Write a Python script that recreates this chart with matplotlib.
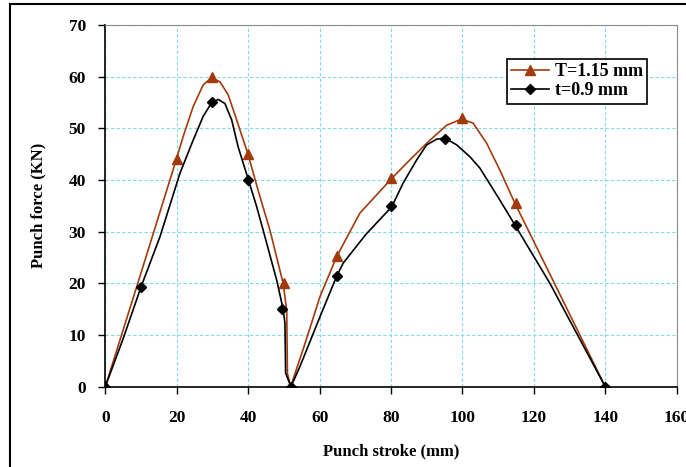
import numpy as np
import matplotlib.pyplot as plt
from matplotlib.patches import Rectangle

# Data
# T = 1.15 mm : curve points and marked points
t115_x = [0, 8.8, 19.8, 21.8, 24.6, 27.4, 29.8, 32.1, 34.4, 36.8, 40, 43, 46.1, 48.4,
          49.8, 50.8, 51, 51.9, 56, 60.1, 64.8, 71.3, 80.2, 85.3, 90.9, 95.6, 99.8,
          103, 106.8, 110.5, 114.7, 126.7, 140]
t115_y = [0, 19.35, 43.8, 48.4, 54.2, 58.4, 59.8, 59, 56.5, 51.6, 44.9, 37.5, 30.3,
          23.9, 20, 14.8, 2.6, 0, 8.5, 17.4, 25.2, 33.6, 40.3, 43.9, 47.7, 50.6,
          51.8, 51, 47.1, 41.9, 35.5, 18.7, 0]
t115_mx = [0, 20, 30, 40, 50, 52, 65, 80, 100, 115, 140]
t115_my = [0, 44, 60, 45, 20, 0, 25.2, 40.3, 52, 35.5, 0]

# t = 0.9 mm
t09_x = [0, 5, 10, 15.3, 20.9, 24.6, 27.4, 29.8, 31.6, 33.5, 35.4, 37.2, 40, 42.4,
         44.2, 48, 49.8, 50.3, 50.5, 52, 54.5, 60.1, 64.8, 66.6, 73, 80.2, 83.4,
         87.2, 90, 92.8, 95.1, 98.4, 102.1, 104.9, 110.5, 114.7, 124.5, 140]
t09_y = [0, 9.3, 19.3, 29, 41.3, 47.7, 52.3, 55, 55.6, 54.8, 51.6, 46.4, 40.2, 34.8,
         30.3, 20.6, 15, 12.3, 2.6, 0, 3.9, 13.5, 21.4, 23.9, 29.5, 34.8, 39.4,
         43.9, 46.8, 47.9, 48.1, 46.8, 44.5, 42.3, 36.1, 31.3, 20, 0]
t09_mx = [0, 10, 30, 40, 49.5, 52, 65, 80, 95, 115, 140]
t09_my = [0, 19.3, 55, 40, 15, 0, 21.5, 35, 48, 31.3, 0]

orange = '#A33A0C'

plt.rcParams['font.family'] = 'Liberation Serif'
plt.rcParams['font.weight'] = 'bold'

fig = plt.figure(figsize=(6.86, 4.67), dpi=100)
ax = fig.add_axes([0.1535, 0.172, 0.8329, 0.7745])

# figure frame
fig.patches.append(Rectangle((10 / 686, -0.1), 1.2, 1.1 - 4 / 467,
                             transform=fig.transFigure, fill=False,
                             edgecolor='black', linewidth=1.5))

ax.plot(t115_x, t115_y, color=orange, lw=1.2)
ax.plot(t115_mx, t115_my, color=orange, lw=0, marker='^', markersize=7)
ax.plot(t09_x, t09_y, color='black', lw=1.2)
ax.plot(t09_mx, t09_my, color='black', lw=0, marker='D', markersize=5)

# legend proxies
h1, = ax.plot([], [], color=orange, lw=1.2, marker='^', markersize=7)
h2, = ax.plot([], [], color='black', lw=1.2, marker='D', markersize=5)
leg = ax.legend([h1, h2], ['T=1.15 mm', 't=0.9 mm'], loc='upper left',
                bbox_to_anchor=(0.703, 0.906), fancybox=False, edgecolor='black',
                framealpha=1, fontsize=13, handlelength=2.1, handletextpad=0.3,
                borderpad=0.25, labelspacing=0.1, borderaxespad=0)
leg.get_frame().set_linewidth(1.2)

ax.set_xlim(0, 160)
ax.set_ylim(0, 70)
ax.set_xticks(np.arange(0, 161, 20))
ax.set_yticks(np.arange(0, 71, 10))
ax.grid(True, color='#7fdde3', linestyle='--', linewidth=0.8, dashes=(3, 2))
ax.set_axisbelow(True)

for s in ['top', 'right']:
    ax.spines[s].set_color('#8a8a8a')
ax.spines['left'].set_linewidth(1.2)
ax.spines['bottom'].set_linewidth(1.2)

ax.tick_params(axis='x', length=5, width=1, pad=12, labelsize=12.5)
ax.tick_params(axis='y', length=5, width=1, pad=9, labelsize=12.5)

ax.set_xlabel('Punch stroke (mm)', fontsize=12, fontweight='bold', labelpad=12)
ax.set_ylabel('Punch force (KN)', fontsize=12, fontweight='bold', labelpad=16)

plt.savefig('out.png')
